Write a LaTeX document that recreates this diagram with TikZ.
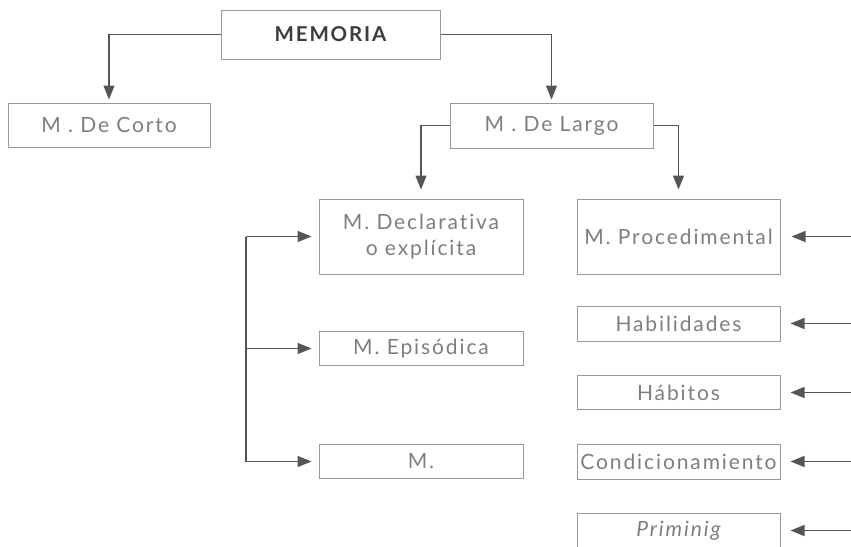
\documentclass[tikz,border=0pt]{standalone}
\usepackage{fontspec}
\setmainfont{Lato}[LetterSpace=9,Ligatures=NoCommon]
\usetikzlibrary{arrows.meta}
\definecolor{linec}{HTML}{555555}
\definecolor{boxc}{HTML}{999999}
\definecolor{txtc}{HTML}{7E7E7E}
\definecolor{headc}{HTML}{3C3C3C}
\tikzset{
  box/.style={draw=boxc, line width=1pt, inner sep=0pt, align=center, text=txtc, font=\fontsize{21}{26}\selectfont},
  conn/.style={draw=linec, line width=1.3pt, -{Triangle[length=14pt,width=11pt]}},
  plain/.style={draw=linec, line width=1.3pt}
}
\begin{document}
\begin{tikzpicture}[x=1pt,y=-1pt]
\useasboundingbox (0,0) rectangle (851,546);
\begin{scope}
\clip (0,0) rectangle (851,546);
\node[box, minimum width=219pt, minimum height=49pt, text=headc, font=\fontsize{20.5}{24}\selectfont\bfseries] (mem) at (330.5,34.5) {MEMORIA};
\node[box, minimum width=202pt, minimum height=44pt] (corto) at (109,125) {M . De Corto};
\node[box, minimum width=203pt, minimum height=45pt] (largo) at (551.5,125.5) {M . De Largo};
\node[box, minimum width=204pt, minimum height=75pt] (decl) at (421,236.5) {M. Declarativa\\o explícita};
\node[box, minimum width=203pt, minimum height=75pt] (proc) at (678.5,236.5) {M. Procedimental};
\node[box, minimum width=204pt, minimum height=34pt] (epis) at (421,348.5) {M. Episódica};
\node[box, minimum width=204pt, minimum height=34pt] (mm) at (421,461.5) {M.};
\node[box, minimum width=203pt, minimum height=35pt] (hab) at (678.5,323.5) {Habilidades};
\node[box, minimum width=203pt, minimum height=34pt] (habi) at (678.5,392.5) {Hábitos};
\node[box, minimum width=203pt, minimum height=35pt] (cond) at (678.5,461.5) {Condicionamiento};
\node[box, minimum width=203pt, minimum height=35pt] (prim) at (678.5,530.5) {\itshape Priminig};

\coordinate (brx) at (246,0);
\coordinate (rx) at (851,0);

\draw[conn, shorten >=3pt] (mem.west) -| (corto.north);
\draw[conn, shorten >=3pt] (mem.east) -| (largo.north);
\draw[conn, shorten >=9pt] (largo.west) -| (decl.north);
\draw[conn, shorten >=9pt] (largo.east) -| (proc.north);

\draw[plain] (decl.west -| brx) -- (mm.west -| brx);
\draw[conn, shorten >=7pt] (decl.west -| brx) -- (decl.west);
\draw[conn, shorten >=7pt] (epis.west -| brx) -- (epis.west);
\draw[conn, shorten >=7pt] (mm.west -| brx) -- (mm.west);

\draw[conn, shorten >=11pt] (proc.east -| rx) -- (proc.east);
\draw[conn, shorten >=10pt] (hab.east -| rx) -- (hab.east);
\draw[conn, shorten >=10pt] (habi.east -| rx) -- (habi.east);
\draw[conn, shorten >=10pt] (cond.east -| rx) -- (cond.east);
\draw[conn, shorten >=10pt] (prim.east -| rx) -- (prim.east);
\end{scope}
\end{tikzpicture}
\end{document}
